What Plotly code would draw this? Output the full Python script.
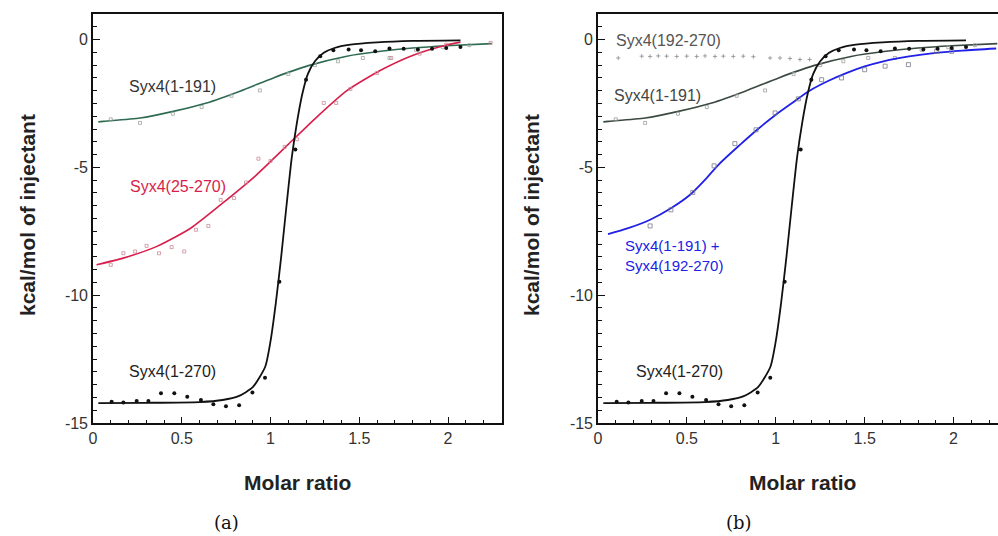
import plotly.graph_objects as go

# ---------------- data ----------------
# Syx4(1-270): measured points and fitted curve (same in both panels)
full_x = [0.105, 0.171, 0.246, 0.312, 0.383, 0.458, 0.531, 0.608, 0.678, 0.749, 0.823, 0.898, 0.969,
          1.05, 1.14, 1.20, 1.28, 1.354, 1.44, 1.51, 1.59, 1.67, 1.75, 1.83, 1.91, 1.99, 2.07]
full_y = [-14.17, -14.2, -14.14, -14.14, -13.84, -13.84, -13.97, -14.1, -14.27, -14.34, -14.31, -13.81, -13.23,
          -9.47, -4.3, -1.57, -0.65, -0.42, -0.39, -0.42, -0.46, -0.35, -0.36, -0.39, -0.36, -0.33, -0.29]
full_fit_x = [0.03, 0.3, 0.6, 0.73, 0.82, 0.9, 0.97, 1.0, 1.03, 1.06, 1.09, 1.12, 1.15, 1.18, 1.21,
              1.25, 1.30, 1.36, 1.45, 1.6, 1.8, 2.07]
full_fit_y = [-14.22, -14.21, -14.18, -14.1, -13.95, -13.6, -12.8, -11.8, -10.3, -8.5, -6.5, -4.6, -3.2,
              -2.1, -1.35, -0.85, -0.52, -0.33, -0.2, -0.11, -0.05, -0.03]

# Syx4(25-270) (panel a, red)
n25_x = [0.10, 0.171, 0.237, 0.302, 0.372, 0.443, 0.514, 0.58, 0.65, 0.719, 0.794, 0.862, 0.932,
         1.00, 1.08, 1.15, 1.30, 1.37, 1.45, 1.60, 1.68, 1.84, 1.99, 2.24]
n25_y = [-8.81, -8.36, -8.29, -8.07, -8.36, -8.12, -8.29, -7.44, -7.29, -6.27, -6.2, -5.59, -4.66,
         -4.75, -4.2, -3.9, -2.48, -2.48, -1.93, -1.31, -0.72, -0.55, -0.2, -0.13]
n25_fit_x = [0.02, 0.17, 0.36, 0.55, 0.73, 0.92, 1.1, 1.25, 1.43, 1.62, 1.8, 1.97, 2.07]
n25_fit_y = [-8.81, -8.55, -8.09, -7.38, -6.4, -5.3, -4.1, -3.1, -2.0, -1.2, -0.62, -0.25, -0.1]

# Syx4(1-191) (both panels)
h191_x = [0.1, 0.265, 0.45, 0.612, 0.78, 0.94, 1.1, 1.25, 1.38, 1.52, 1.67, 1.82, 1.97, 2.12]
h191_y = [-3.12, -3.26, -2.9, -2.64, -2.2, -1.99, -1.35, -1.0, -0.85, -0.72, -0.72, -0.4, -0.3, -0.22]
h191_fit_x = [0.03, 0.058, 0.265, 0.452, 0.64, 0.828, 1.016, 1.213, 1.43, 1.62, 1.80, 1.99, 2.246]
h191_fit_y = [-3.22, -3.2, -3.07, -2.81, -2.48, -2.02, -1.5, -1.02, -0.65, -0.46, -0.33, -0.24, -0.16]

# Syx4(192-270) (panel b, dotted row of points)
c192_x = [0.114, 0.246, 0.293, 0.339, 0.386, 0.443, 0.499, 0.555, 0.602, 0.658, 0.705, 0.761,
          0.817, 0.874, 0.968, 1.024, 1.08, 1.136, 1.19]
c192_y = [-0.72, -0.65, -0.66, -0.64, -0.65, -0.66, -0.65, -0.66, -0.64, -0.66, -0.65, -0.66,
          -0.65, -0.67, -0.72, -0.72, -0.74, -0.78, -0.78]

# Syx4(1-191) + Syx4(192-270) (panel b, blue)
mix_x = [0.293, 0.41, 0.533, 0.653, 0.77, 0.889, 0.996, 1.127, 1.258, 1.37, 1.50, 1.615, 1.746, 1.905, 1.99]
mix_y = [-7.29, -6.66, -5.98, -4.94, -4.07, -3.53, -2.87, -2.32, -1.57, -1.5, -1.18, -1.04, -0.98, -0.46, -0.46]
mix_fit_x = [0.056, 0.17, 0.293, 0.41, 0.518, 0.6, 0.68, 0.8, 0.9, 1.0, 1.1, 1.19, 1.3, 1.4, 1.5, 1.6,
             1.75, 1.9, 2.05, 2.24]
mix_fit_y = [-7.61, -7.38, -7.05, -6.6, -6.07, -5.5, -4.88, -4.11, -3.5, -2.94, -2.44, -2.0, -1.6,
             -1.3, -1.05, -0.86, -0.66, -0.52, -0.43, -0.35]

x_ticks = [0, 0.5, 1, 1.5, 2]
x_tick_text = ["0", "0.5", "1", "1.5", "2"]
y_ticks = [0, -5, -10, -15]
y_tick_text = ["0", "-5", "-10", "-15"]

# ---------------- figure ----------------
fig = go.Figure()

def add(xs, ys, axis, mode, color, width=1.5, size=3, symbol="square", lw=0.8, smoothing=0.6):
    xa, ya = ("x", "y") if axis == 1 else ("x2", "y2")
    if mode == "lines":
        fig.add_trace(go.Scatter(x=xs, y=ys, mode="lines", xaxis=xa, yaxis=ya,
                                 line=dict(color=color, width=width, shape="spline", smoothing=smoothing),
                                 showlegend=False, hoverinfo="skip"))
    else:
        fig.add_trace(go.Scatter(x=xs, y=ys, mode="markers", xaxis=xa, yaxis=ya,
                                 marker=dict(color=color, size=size, symbol=symbol,
                                             line=dict(width=lw, color=color)),
                                 showlegend=False, hoverinfo="skip"))

GREEN_A = "#2f6b52"
GREEN_B = "#3b4a40"
RED = "#d81e4a"
BLUE = "#2020e6"

# panel (a)
add(h191_fit_x, h191_fit_y, 1, "lines", GREEN_A, 1.6)
add(h191_x, h191_y, 1, "markers", "#9aa59f", size=3, symbol="square-open")
add(n25_fit_x, n25_fit_y, 1, "lines", RED, 1.6)
add(n25_x, n25_y, 1, "markers", "#c98a96", size=3, symbol="square-open")
add(full_fit_x, full_fit_y, 1, "lines", "#111111", 1.8)
add(full_x, full_y, 1, "markers", "#111111", size=4, symbol="circle", lw=0)

# panel (b)
add(h191_fit_x, h191_fit_y, 2, "lines", GREEN_B, 1.6)
add(h191_x, h191_y, 2, "markers", "#9aa09c", size=3, symbol="square-open")
add(c192_x, c192_y, 2, "markers", "#8a8a8a", size=3, symbol="cross-thin-open")
add(mix_fit_x, mix_fit_y, 2, "lines", BLUE, 1.8, smoothing=0.8)
add(mix_x, mix_y, 2, "markers", "#7a7a8a", size=4, symbol="square-open")
add(full_fit_x, full_fit_y, 2, "lines", "#111111", 1.8)
add(full_x, full_y, 2, "markers", "#111111", size=4, symbol="circle", lw=0)

FONT = "Liberation Sans, Arial, sans-serif"

def xaxis(domain, rng, anchor, mirror=True):
    return dict(domain=domain, range=rng, anchor=anchor, showgrid=False, zeroline=False,
                showline=True, linecolor="#111111", linewidth=1.6, mirror=mirror,
                ticks="inside", ticklen=6, tickwidth=1.4, tickcolor="#111111",
                tickvals=x_ticks, ticktext=x_tick_text,
                tickfont=dict(family=FONT, size=16, color="#333333"),
                minor=dict(dtick=0.1, tick0=0, ticks="inside", ticklen=3, tickwidth=1.2,
                           tickcolor="#111111", showgrid=False))

def yaxis(domain, anchor, mirror):
    return dict(domain=domain, range=[-15, 1], anchor=anchor, showgrid=False, zeroline=False,
                showline=True, linecolor="#111111", linewidth=1.6, mirror=mirror,
                ticks="inside", ticklen=7, tickwidth=1.4, tickcolor="#111111",
                tickvals=y_ticks, ticktext=y_tick_text,
                tickfont=dict(family=FONT, size=16, color="#333333"),
                minor=dict(dtick=0.5, tick0=0, ticks="inside", ticklen=4, tickwidth=1.2,
                           tickcolor="#111111", showgrid=False))

ydom = [113 / 536, 522 / 536]
fig.update_layout(
    width=998, height=536, margin=dict(l=0, r=0, t=0, b=0, autoexpand=False),
    paper_bgcolor="white", plot_bgcolor="white",
    xaxis=xaxis([93 / 998, 502 / 998], [0, 2.304], "y"),
    yaxis=yaxis(ydom, "x", True),
    xaxis2=xaxis([598 / 998, 1.0], [0, 2.25], "y2"),
    yaxis2=yaxis(ydom, "x2", False),
)

ann = []
def label(text, x, y, axis, color, size=16, xanchor="center", align="center"):
    ann.append(dict(text=text, x=x, y=y, xref="x" if axis == 1 else "x2",
                    yref="y" if axis == 1 else "y2", showarrow=False, xanchor=xanchor,
                    yanchor="middle", align=align, font=dict(family=FONT, size=size, color=color)))

label("Syx4(1-191)", 0.445, -1.84, 1, "#333333")
label("Syx4(25-270)", 0.479, -5.76, 1, RED)
label("Syx4(1-270)", 0.45, -13.0, 1, "#222222")
label("Syx4(192-270)", 0.394, -0.04, 2, "#555555")
label("Syx4(1-191)", 0.332, -2.19, 2, "#444444")
label("Syx4(1-191) +<br>Syx4(192-270)", 0.14, -8.44, 2, BLUE, size=15, xanchor="left", align="left")
label("Syx4(1-270)", 0.461, -13.0, 2, "#222222")

for cx in (297.5 / 998, 802 / 998):
    ann.append(dict(text="<b>Molar ratio</b>", x=cx, y=1 - 482 / 536, xref="paper", yref="paper",
                    xanchor="center", yanchor="middle", showarrow=False,
                    font=dict(family=FONT, size=21, color="#222222")))
for cx in (27 / 998, 531 / 998):
    ann.append(dict(text="<b>kcal/mol of injectant</b>", x=cx, y=1 - 215 / 536, xref="paper",
                    yref="paper", xanchor="center", yanchor="middle", showarrow=False, textangle=-90,
                    font=dict(family=FONT, size=21, color="#222222")))
for txt, cx in (("(a)", 226 / 998), ("(b)", 739 / 998)):
    ann.append(dict(text=txt, x=cx, y=1 - 522 / 536, xref="paper", yref="paper", showarrow=False,
                    xanchor="center", yanchor="middle",
                    font=dict(family="DejaVu Serif, Liberation Serif, serif", size=18, color="#111111")))

fig.update_layout(annotations=ann)
fig.write_html("out.html")
